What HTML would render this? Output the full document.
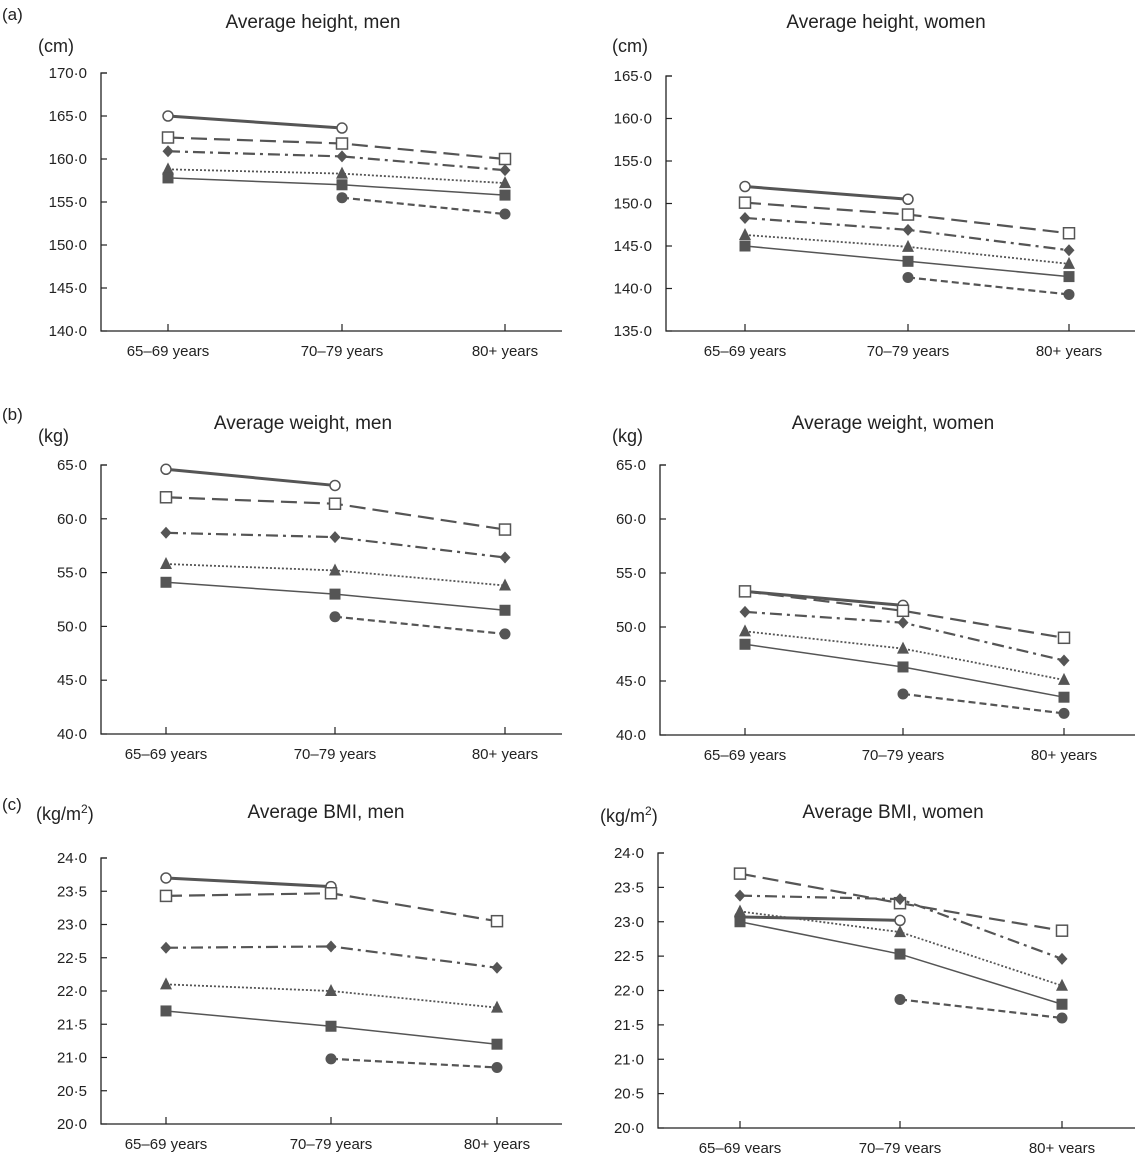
<!DOCTYPE html>
<html><head><meta charset="utf-8"><style>
body{margin:0;background:#fff;}
svg{display:block;font-family:"Liberation Sans",sans-serif;}
</style></head><body>
<svg id="fig" width="1148" height="1153" viewBox="0 0 1148 1153">
<text x="2" y="20" font-size="17" fill="#222">(a)</text>
<text x="2" y="420" font-size="17" fill="#222">(b)</text>
<text x="2" y="810" font-size="17" fill="#222">(c)</text>
</svg>
<script>
const categories = ["65–69 years","70–79 years","80+ years"];
// series order: open-circle, open-square, diamond, triangle, filled-square, filled-circle
const hMen_circle=[165.0,163.6,null], hMen_sq=[162.5,161.8,160.0], hMen_dia=[160.9,160.3,158.7], hMen_tri=[158.8,158.3,157.2], hMen_fsq=[157.8,157.0,155.8], hMen_fc=[null,155.5,153.6];
const hWom_circle=[152.0,150.5,null], hWom_sq=[150.1,148.7,146.5], hWom_dia=[148.3,146.9,144.5], hWom_tri=[146.3,144.9,142.9], hWom_fsq=[145.0,143.2,141.4], hWom_fc=[null,141.3,139.3];
const wMen_circle=[64.6,63.1,null], wMen_sq=[62.0,61.4,59.0], wMen_dia=[58.7,58.3,56.4], wMen_tri=[55.8,55.2,53.8], wMen_fsq=[54.1,53.0,51.5], wMen_fc=[null,50.9,49.3];
const wWom_circle=[53.3,52.0,null], wWom_sq=[53.3,51.5,49.0], wWom_dia=[51.4,50.4,46.9], wWom_tri=[49.6,48.0,45.1], wWom_fsq=[48.4,46.3,43.5], wWom_fc=[null,43.8,42.0];
const bMen_circle=[23.70,23.57,null], bMen_sq=[23.43,23.47,23.05], bMen_dia=[22.65,22.67,22.35], bMen_tri=[22.10,22.00,21.75], bMen_fsq=[21.70,21.47,21.20], bMen_fc=[null,20.98,20.85];
const bWom_circle=[23.07,23.02,null], bWom_sq=[23.70,23.27,22.87], bWom_dia=[23.38,23.33,22.46], bWom_tri=[23.15,22.85,22.07], bWom_fsq=[23.00,22.53,21.80], bWom_fc=[null,21.87,21.60];
const hMenTicks=[140,145,150,155,160,165,170], hWomTicks=[135,140,145,150,155,160,165];
const wTicks=[40,45,50,55,60,65];
const bTicks=[20,20.5,21,21.5,22,22.5,23,23.5,24];

const NS="http://www.w3.org/2000/svg";
const svg=document.getElementById('fig');
function mk(tag,attrs,parent){const e=document.createElementNS(NS,tag);for(const k in attrs)e.setAttribute(k,attrs[k]);(parent||svg).appendChild(e);return e;}
function fmt(v,d){return v.toFixed(d).replace('.','·');}

function panel(o){
  const g=mk('g',{});
  
  
  const t0=o.ticks[0], t1=o.ticks[o.ticks.length-1];
  const y=v=>o.yBot-(v-t0)/(t1-t0)*(o.yBot-o.yTop);
  const x=i=>o.cats[i];
  const t=mk('text',{x:o.titleX,y:o.titleY,'font-size':19,'text-anchor':'middle',fill:'#222'},g);
  t.textContent=o.title;
  
  
  const u=mk('text',{x:o.unitX,y:o.unitY,'font-size':18,fill:'#222'},g);
  u.innerHTML=o.unit;
  
  
  const ax=mk('path',{d:`M${o.axX+6},${o.yTop}H${o.axX}V${o.yBot}H${o.axEnd}`,stroke:'#222','stroke-width':1.3,fill:'none'},g);
  
  
  o.ticks.forEach(v=>{
    const yy=y(v);
    mk('line',{x1:o.axX,x2:o.axX+6,y1:yy,y2:yy,stroke:'#222','stroke-width':1.2},g);
    const tl=mk('text',{x:o.axX-14,y:yy+5,'font-size':15,'text-anchor':'end',fill:'#222'},g);
    tl.textContent=fmt(v,1);
    
    
  });
  categories.forEach((c,i)=>{
    mk('line',{x1:x(i),x2:x(i),y1:o.yBot,y2:o.yBot-7,stroke:'#222','stroke-width':1.2},g);
    const cl=mk('text',{x:x(i),y:o.yBot+25,'font-size':15,'text-anchor':'middle',fill:'#222'},g);
    cl.textContent=c;
    
    
  });
  const styles=[
    {d:o.s[0],dash:'',w:3,m:'ocircle',name:'series-open-circle'},
    {d:o.s[1],dash:'16,7',w:2.2,m:'osquare',name:'series-open-square'},
    {d:o.s[2],dash:'12,5,3,5',w:2.2,m:'diamond',name:'series-diamond'},
    {d:o.s[3],dash:'2,2',w:1.8,m:'triangle',name:'series-triangle'},
    {d:o.s[4],dash:'',w:1.5,m:'fsquare',name:'series-filled-square'},
    {d:o.s[5],dash:'7,4',w:2.2,m:'fcircle',name:'series-filled-circle'}
  ];
  styles.forEach(st=>{
    const sg=mk('g',{},g);
    
    
    const pts=[];st.d.forEach((v,i)=>{if(v!=null)pts.push([x(i),y(v)]);});
    const ln=mk('polyline',{points:pts.map(p=>p.join(',')).join(' '),fill:'none',stroke:'#555','stroke-width':st.w,'stroke-dasharray':st.dash},sg);
    
    
    pts.forEach(([px,py])=>{
      let m;
      if(st.m==='ocircle')m=mk('circle',{cx:px,cy:py,r:5,fill:'#fff',stroke:'#555','stroke-width':1.5},sg);
      else if(st.m==='osquare')m=mk('rect',{x:px-5.5,y:py-5.5,width:11,height:11,fill:'#fff',stroke:'#555','stroke-width':1.5},sg);
      else if(st.m==='diamond')m=mk('path',{d:`M${px},${py-6}L${px+5.5},${py}L${px},${py+6}L${px-5.5},${py}Z`,fill:'#555'},sg);
      else if(st.m==='triangle')m=mk('path',{d:`M${px},${py-7}L${px+6},${py+5}L${px-6},${py+5}Z`,fill:'#555'},sg);
      else if(st.m==='fsquare')m=mk('rect',{x:px-5.5,y:py-5.5,width:11,height:11,fill:'#555'},sg);
      else m=mk('circle',{cx:px,cy:py,r:5.5,fill:'#555'},sg);
      
      
    });
  });
}
panel({name:'chart-height-men',title:'Average height, men',titleX:313,titleY:28,unit:'(cm)',unitX:38,unitY:52,axX:101,axEnd:562,yTop:73,yBot:331,ticks:hMenTicks,cats:[168,342,505],s:[hMen_circle,hMen_sq,hMen_dia,hMen_tri,hMen_fsq,hMen_fc]});
panel({name:'chart-height-women',title:'Average height, women',titleX:886,titleY:28,unit:'(cm)',unitX:612,unitY:52,axX:666,axEnd:1135,yTop:76,yBot:331,ticks:hWomTicks,cats:[745,908,1069],s:[hWom_circle,hWom_sq,hWom_dia,hWom_tri,hWom_fsq,hWom_fc]});
panel({name:'chart-weight-men',title:'Average weight, men',titleX:303,titleY:429,unit:'(kg)',unitX:38,unitY:442,axX:101,axEnd:562,yTop:465,yBot:734,ticks:wTicks,cats:[166,335,505],s:[wMen_circle,wMen_sq,wMen_dia,wMen_tri,wMen_fsq,wMen_fc]});
panel({name:'chart-weight-women',title:'Average weight, women',titleX:893,titleY:429,unit:'(kg)',unitX:612,unitY:442,axX:660,axEnd:1135,yTop:465,yBot:735,ticks:wTicks,cats:[745,903,1064],s:[wWom_circle,wWom_sq,wWom_dia,wWom_tri,wWom_fsq,wWom_fc]});
panel({name:'chart-bmi-men',title:'Average BMI, men',titleX:326,titleY:818,unit:'(kg/m<tspan dy="-7" font-size="12">2</tspan><tspan dy="7">)</tspan>',unitX:36,unitY:820,axX:101,axEnd:562,yTop:858,yBot:1124,ticks:bTicks,cats:[166,331,497],s:[bMen_circle,bMen_sq,bMen_dia,bMen_tri,bMen_fsq,bMen_fc]});
panel({name:'chart-bmi-women',title:'Average BMI, women',titleX:893,titleY:818,unit:'(kg/m<tspan dy="-7" font-size="12">2</tspan><tspan dy="7">)</tspan>',unitX:600,unitY:822,axX:658,axEnd:1135,yTop:853,yBot:1128,ticks:bTicks,cats:[740,900,1062],s:[bWom_circle,bWom_sq,bWom_dia,bWom_tri,bWom_fsq,bWom_fc]});
</script>
</body></html>
